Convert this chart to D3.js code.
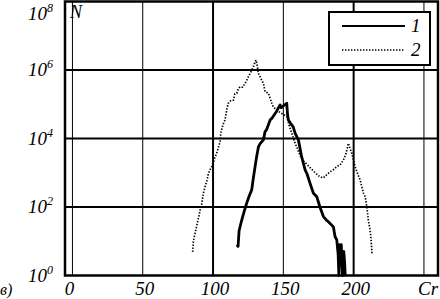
<!DOCTYPE html>
<html>
<head>
	<meta charset="utf-8">
	<title>N vs Cr</title>
	<script type="text/javascript" src="https://cdn.jsdelivr.net/npm/d3@7/dist/d3.min.js"></script>
	<style type="text/css">
		body { margin: 0; background: #fff; }
		text { font-family: "Liberation Serif", "DejaVu Serif", serif; font-style: italic; fill: #000; }
	</style>
</head>
<body>
	<div id="chart"></div>
	<script type="text/javascript">
		// series 1 (solid): Cr and log10(N)
		const cr1 = [117, 117.8, 118.5, 120.4, 122, 124, 125.5, 127.5, 128.5, 129.9, 131, 132.3, 133.5, 135.8, 137, 138, 140.6, 142, 145, 147.7, 148.5, 150, 152.4, 153, 153.6, 155, 157, 158.4, 160.7, 163, 165.5, 167, 169, 171.4, 173.8, 176, 178.5, 181, 182, 185.6, 186.8, 188, 189, 189.5, 190, 190.6, 191.2, 192, 193, 193.6, 194];
		const logN1 = [0.9, 0.85, 1.3, 1.62, 1.85, 2.12, 2.3, 2.5, 2.8, 3.18, 3.47, 3.76, 3.85, 3.96, 4.2, 4.25, 4.54, 4.6, 4.78, 4.98, 4.9, 4.95, 5.03, 4.7, 4.54, 4.45, 4.34, 4.15, 3.96, 3.47, 3.08, 2.95, 2.69, 2.4, 2.3, 2.0, 1.72, 1.6, 1.57, 1.42, 1.13, 1.04, 0.6, 0, 0.9, 0.3, 0.9, 0, 0.7, 0.36, 0];

		// series 2 (dotted)
		const cr2 = [85.5, 86, 87, 88.4, 90, 90.8, 92, 93.1, 94.3, 95.5, 96.7, 99, 101.4, 102.6, 105, 105.5, 107, 108.5, 110, 110.9, 112.5, 114.5, 115.5, 116.9, 118, 119.2, 121, 122.8, 124, 125.1, 127, 128.7, 130, 130.6, 131.5, 132.3, 134, 135.8, 137, 139.4, 141.8, 142.7, 145.3, 148, 150, 152.5, 154, 156, 158, 160, 162, 164, 166.7, 169, 171.4, 174, 176, 178.5, 181, 183.3, 186, 188, 190.4, 192.7, 194.5, 196.3, 197.5, 198.7, 200, 201, 203, 204.6, 207, 208.2, 209.4, 210.5, 211.7, 212.5, 213];
		const logN2 = [0.69, 0.99, 1.2, 1.45, 1.75, 1.91, 2.1, 2.4, 2.59, 2.74, 2.98, 3.18, 3.45, 3.57, 3.9, 4.15, 4.4, 4.54, 4.9, 5.03, 5.1, 5.12, 5.3, 5.32, 5.45, 5.51, 5.5, 5.61, 5.7, 5.8, 5.95, 6.1, 6.25, 6.29, 6.1, 5.9, 5.75, 5.61, 5.37, 5.32, 5.03, 4.93, 4.83, 4.75, 4.7, 4.64, 4.4, 4.15, 3.9, 3.7, 3.5, 3.35, 3.25, 3.15, 3.05, 2.95, 2.88, 2.85, 2.95, 3.03, 3.1, 3.18, 3.23, 3.37, 3.55, 3.86, 3.7, 3.57, 3.35, 3.18, 2.95, 2.79, 2.4, 2.3, 2.0, 1.6, 1.33, 1.0, 0.65];

		const xTicks = [0, 50, 100, 150, 200];
		const xGrid = [0, 50, 100, 150, 200, 250];
		const yTickExp = [0, 2, 4, 6, 8];
		const legendLabels = ["1", "2"];

		const width = 440, height = 299;
		const plot = {left: 65, right: 438, top: 1.5, bottom: 275.5};

		const x = d3.scaleLinear().domain([-5.3, 260]).range([plot.left, plot.right]);
		const y = d3.scaleLog().domain([1, 1e8]).range([plot.bottom, plot.top]);

		const svg = d3.select("#chart").append("svg")
			.attr("width", width)
			.attr("height", height);

		// grid lines (100 and 200 drawn heavier, like the original)
		svg.append("g").selectAll("line")
			.data(xGrid)
			.join("line")
				.attr("x1", d => x(d)).attr("x2", d => x(d))
				.attr("y1", plot.top).attr("y2", plot.bottom)
				.attr("stroke", "#000")
				.attr("stroke-width", d => (d % 100 === 0 && d > 0) ? 2 : 1);

		svg.append("g").selectAll("line")
			.data([2, 4, 6])
			.join("line")
				.attr("x1", plot.left).attr("x2", plot.right)
				.attr("y1", d => y(10 ** d)).attr("y2", d => y(10 ** d))
				.attr("stroke", "#000")
				.attr("stroke-width", 2);

		const line = d3.line()
			.x(d => x(d[0]))
			.y(d => y(10 ** d[1]));

		svg.append("path")
			.datum(d3.zip(cr2, logN2))
			.attr("d", line)
			.attr("fill", "none")
			.attr("stroke", "#000")
			.attr("stroke-width", 1.7)
			.attr("stroke-dasharray", "1.4,1.6");

		svg.append("path")
			.datum(d3.zip(cr1, logN1))
			.attr("d", line)
			.attr("fill", "none")
			.attr("stroke", "#000")
			.attr("stroke-width", 2.8)
			.attr("stroke-linejoin", "round");

		// frame
		svg.append("rect")
			.attr("x", plot.left).attr("y", plot.top)
			.attr("width", plot.right - plot.left)
			.attr("height", plot.bottom - plot.top)
			.attr("fill", "none")
			.attr("stroke", "#000")
			.attr("stroke-width", 2.5);

		// y tick labels 10^n
		const yLab = svg.append("g").selectAll("text")
			.data(yTickExp)
			.join("text")
				.attr("x", 53)
				.attr("y", d => Math.max(y(10 ** d) + 6, 20))
				.attr("text-anchor", "end")
				.attr("font-size", 19);
		yLab.append("tspan").text("10");
		yLab.append("tspan").attr("font-size", 12).attr("dy", -8).text(d => d);

		// x tick labels
		svg.append("g").selectAll("text")
			.data(xTicks)
			.join("text")
				.attr("x", d => x(d) + (d === 0 ? -3 : 2))
				.attr("y", 295)
				.attr("text-anchor", "middle")
				.attr("font-size", 19)
				.text(d => d);

		svg.append("text").attr("x", 418).attr("y", 295).attr("font-size", 19).text("Cr");
		svg.append("text").attr("x", 70).attr("y", 18).attr("font-size", 18).text("N");
		svg.append("text").attr("x", 0).attr("y", 295).attr("font-size", 16).text("в)");

		// legend
		const lg = svg.append("g");
		lg.append("rect")
			.attr("x", 329).attr("y", 12)
			.attr("width", 101).attr("height", 53)
			.attr("fill", "#fff")
			.attr("stroke", "#000")
			.attr("stroke-width", 2);
		lg.selectAll("line")
			.data(legendLabels)
			.join("line")
				.attr("x1", 342).attr("x2", 405)
				.attr("y1", (d, i) => 26 + i * 24).attr("y2", (d, i) => 26 + i * 24)
				.attr("stroke", "#000")
				.attr("stroke-width", (d, i) => i === 0 ? 2 : 1.7)
				.attr("stroke-dasharray", (d, i) => i === 0 ? null : "1.4,1.6");
		lg.selectAll("text")
			.data(legendLabels)
			.join("text")
				.attr("x", 411)
				.attr("y", (d, i) => 32 + i * 24)
				.attr("font-size", 19)
				.text(d => d);
</script>
</body>
</html>
